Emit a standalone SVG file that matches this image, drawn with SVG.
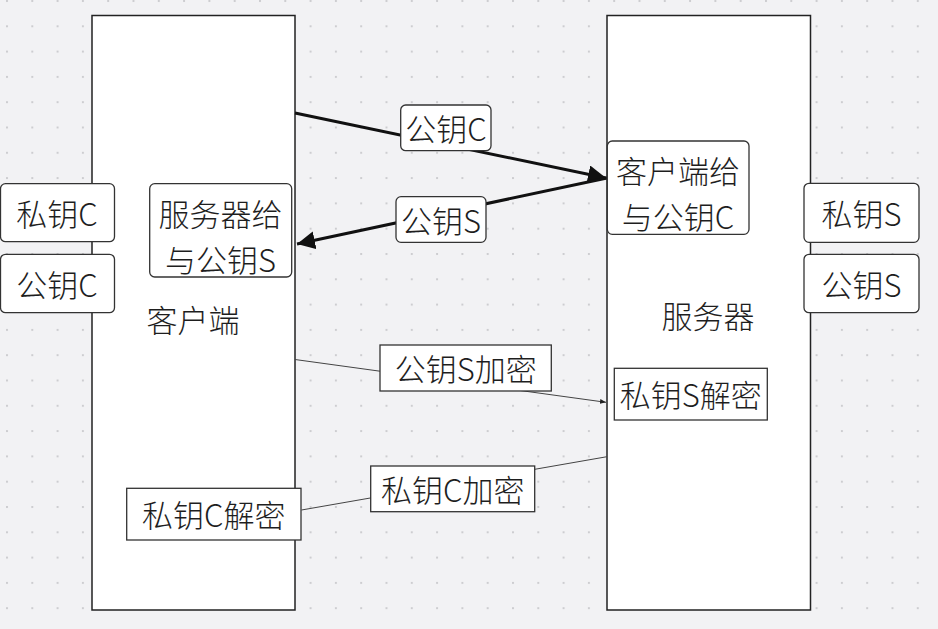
<svg xmlns="http://www.w3.org/2000/svg" width="938" height="629" viewBox="0 0 938 629">
<defs>
<pattern id="dots" x="6" y="0" width="25.3" height="25.3" patternUnits="userSpaceOnUse">
<rect x="0" y="0" width="2" height="2" fill="#cdcdd0"/>
</pattern>
<marker id="bigArrow" viewBox="0 0 10 10" refX="10" refY="5" markerWidth="6" markerHeight="6" orient="auto" markerUnits="strokeWidth">
<path d="M0,0 L10,5 L0,10 z" fill="#111"/>
</marker>
<marker id="smallArrow" viewBox="0 0 10 10" refX="10" refY="5" markerWidth="6" markerHeight="6" orient="auto" markerUnits="strokeWidth">
<path d="M0,1 L10,5 L0,9 z" fill="#222"/>
</marker>
</defs>
<style>
.t{font-family:"Noto Sans CJK SC","Noto Sans",sans-serif;font-size:31px;font-weight:300;fill:#1e1e1e;text-anchor:middle;dominant-baseline:central}
.box{fill:#fff;stroke:#333;stroke-width:1.3}
.big{fill:#fff;stroke:#222;stroke-width:1.5}
.thick{stroke:#111;stroke-width:3;fill:none}
.thin{stroke:#444;stroke-width:1;fill:none}
</style>
<rect width="938" height="629" fill="#f2f2f4"/>
<rect width="938" height="629" fill="url(#dots)"/>

<g id="client">
<rect class="big" x="92" y="15.5" width="203" height="594.5"/>
<text class="t" x="193" y="318">客户端</text>
</g>
<g id="server">
<rect class="big" x="607" y="15.5" width="203.5" height="594.5"/>
<text class="t" x="708" y="314">服务器</text>
</g>

<g id="connectors">
<line class="thick" x1="295" y1="113" x2="606" y2="178" marker-end="url(#bigArrow)"/>
<line class="thick" x1="607" y1="178" x2="297" y2="244" marker-end="url(#bigArrow)"/>
<line class="thin" x1="295" y1="359.5" x2="606" y2="402.3" marker-end="url(#smallArrow)"/>
<line class="thin" x1="607" y1="456.7" x2="301.5" y2="510"/>
</g>

<g id="privC">
<rect class="box" x="0.5" y="183.7" width="114" height="58" rx="5"/>
<text class="t" x="57" y="212.5">私钥C</text>
</g>
<g id="pubC">
<rect class="box" x="0.5" y="254.3" width="114" height="58.4" rx="5"/>
<text class="t" x="57" y="283.5">公钥C</text>
</g>
<g id="serverGave">
<rect class="box" x="149.7" y="183.7" width="142" height="93.3" rx="5"/>
<text class="t" x="220.5" y="212">服务器给</text>
<text class="t" x="220.5" y="258.5">与公钥S</text>
</g>
<g id="clientGave">
<rect class="box" x="607.3" y="141" width="141.7" height="93.3" rx="5"/>
<text class="t" x="678" y="169.5">客户端给</text>
<text class="t" x="678" y="215">与公钥C</text>
</g>
<g id="privS">
<rect class="box" x="804" y="183.3" width="115" height="59" rx="5"/>
<text class="t" x="861.5" y="212.5">私钥S</text>
</g>
<g id="pubS">
<rect class="box" x="804" y="254.3" width="115" height="58.4" rx="5"/>
<text class="t" x="861.5" y="283.5">公钥S</text>
</g>
<g id="labelPubC">
<rect class="box" x="400.7" y="105" width="90.3" height="45.7" rx="5"/>
<text class="t" x="446" y="127.5">公钥C</text>
</g>
<g id="labelPubS">
<rect class="box" x="396" y="196.7" width="90" height="45.6" rx="5"/>
<text class="t" x="441" y="219">公钥S</text>
</g>
<g id="encS">
<rect class="box" x="380" y="345" width="171.3" height="46"/>
<text class="t" x="465.7" y="367.5">公钥S加密</text>
</g>
<g id="decS">
<rect class="box" x="614.3" y="368.3" width="153" height="51.7"/>
<text class="t" x="690.8" y="393.5">私钥S解密</text>
</g>
<g id="encC">
<rect class="box" x="370.7" y="466" width="164" height="45.7"/>
<text class="t" x="452.7" y="488.5">私钥C加密</text>
</g>
<g id="decC">
<rect class="box" x="126.7" y="488.3" width="174.3" height="51.7"/>
<text class="t" x="213.8" y="513.5">私钥C解密</text>
</g>
</svg>
